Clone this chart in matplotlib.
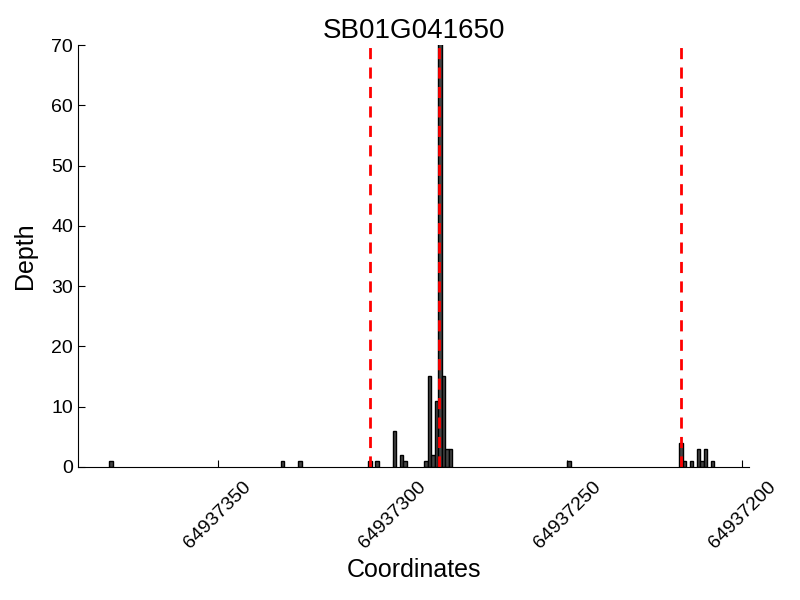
import matplotlib
matplotlib.use("Agg")
import matplotlib.pyplot as plt

title = "SB01G041650"
positions = [64937380, 64937331, 64937326, 64937306, 64937304,
             64937299, 64937297, 64937296, 64937290, 64937289,
             64937288, 64937287, 64937286, 64937285, 64937284,
             64937283, 64937249, 64937217, 64937216, 64937214,
             64937212, 64937211, 64937210, 64937208]
depths = [1, 1, 1, 1, 1,
          6, 2, 1, 1, 15,
          2, 11, 80, 15, 3,
          3, 1, 4, 1, 1,
          3, 1, 3, 1]
vlines = [64937306.6, 64937286.7, 64937217.5]
xticks = [64937350, 64937300, 64937250, 64937200]
xlim = (64937390, 64937198)
ylim = (0, 70)

plt.rcParams['font.family'] = ['Liberation Sans', 'DejaVu Sans']

fig = plt.figure(figsize=(8, 6), dpi=100)
ax = fig.add_axes([0.0975, 0.222, 0.839, 0.703])

ax.bar(positions, depths, width=1, align='edge', color='#444444',
       edgecolor='black', linewidth=1)
for v in vlines:
    ax.axvline(v, color='red', linestyle='--', linewidth=2, dashes=(4, 3))

ax.set_xlim(*xlim)
ax.set_ylim(*ylim)
ax.set_xticks(xticks)
ax.set_xticklabels([str(t) for t in xticks], rotation=45, ha='center',
                   fontsize=14)
ax.set_yticks(range(0, 71, 10))
ax.tick_params(axis='y', labelsize=14, direction='in', length=5, right=False)
ax.tick_params(axis='x', direction='in', length=5, top=False, pad=8)
ax.spines['top'].set_visible(False)
ax.spines['right'].set_visible(False)
ax.set_title(title, fontsize=20, pad=5)
ax.set_xlabel("Coordinates", fontsize=18, labelpad=5)
ax.set_ylabel("Depth", fontsize=18, labelpad=10)

fig.savefig("out.png", dpi=100)
